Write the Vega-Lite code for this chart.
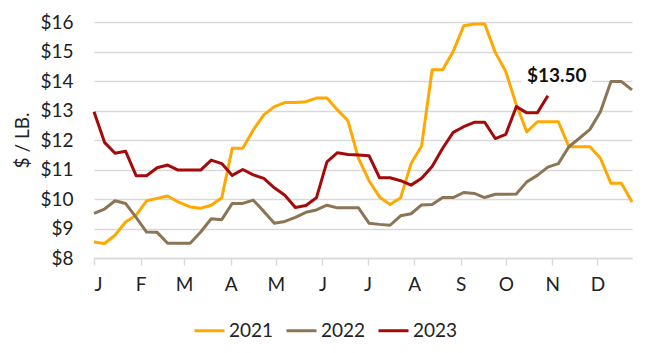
{
  "$schema": "https://vega.github.io/schema/vega-lite/v6.json",
  "width": 538,
  "height": 236,
  "autosize": {"type": "none"},
  "padding": {"left": 94, "top": 22, "right": 18, "bottom": 95},
  "background": "white",
  "config": {"font": "Lato", "view": {"stroke": null}},
  "datasets": {
    "note": [{"date": "2023-10-29", "price": 13.5, "label": "$13.50"}],
    "prices": [
      {"series":"2021","date":"2021-01-01","price":8.54},{"series":"2021","date":"2021-01-08","price":8.49},{"series":"2021","date":"2021-01-15","price":8.77},{"series":"2021","date":"2021-01-22","price":9.22},{"series":"2021","date":"2021-01-29","price":9.45},{"series":"2021","date":"2021-02-05","price":9.94},{"series":"2021","date":"2021-02-12","price":10.02},{"series":"2021","date":"2021-02-19","price":10.1},{"series":"2021","date":"2021-02-26","price":9.9},{"series":"2021","date":"2021-03-05","price":9.73},
      {"series":"2021","date":"2021-03-12","price":9.69},{"series":"2021","date":"2021-03-19","price":9.79},{"series":"2021","date":"2021-03-26","price":10.04},{"series":"2021","date":"2021-04-02","price":11.72},{"series":"2021","date":"2021-04-09","price":11.72},{"series":"2021","date":"2021-04-16","price":12.34},{"series":"2021","date":"2021-04-23","price":12.85},{"series":"2021","date":"2021-04-30","price":13.13},{"series":"2021","date":"2021-05-07","price":13.27},{"series":"2021","date":"2021-05-14","price":13.27},
      {"series":"2021","date":"2021-05-21","price":13.3},{"series":"2021","date":"2021-05-28","price":13.42},{"series":"2021","date":"2021-06-04","price":13.42},{"series":"2021","date":"2021-06-11","price":13.02},{"series":"2021","date":"2021-06-18","price":12.65},{"series":"2021","date":"2021-06-25","price":11.38},{"series":"2021","date":"2021-07-02","price":10.62},{"series":"2021","date":"2021-07-09","price":10.07},{"series":"2021","date":"2021-07-16","price":9.81},{"series":"2021","date":"2021-07-23","price":10.04},
      {"series":"2021","date":"2021-07-30","price":11.2},{"series":"2021","date":"2021-08-06","price":11.8},{"series":"2021","date":"2021-08-13","price":14.38},{"series":"2021","date":"2021-08-20","price":14.38},{"series":"2021","date":"2021-08-27","price":15.0},{"series":"2021","date":"2021-09-03","price":15.87},{"series":"2021","date":"2021-09-10","price":15.93},{"series":"2021","date":"2021-09-17","price":15.93},{"series":"2021","date":"2021-09-24","price":14.97},{"series":"2021","date":"2021-10-01","price":14.32},
      {"series":"2021","date":"2021-10-08","price":13.2},{"series":"2021","date":"2021-10-15","price":12.27},{"series":"2021","date":"2021-10-22","price":12.62},{"series":"2021","date":"2021-10-29","price":12.62},{"series":"2021","date":"2021-11-05","price":12.62},{"series":"2021","date":"2021-11-12","price":11.77},{"series":"2021","date":"2021-11-19","price":11.77},{"series":"2021","date":"2021-11-26","price":11.77},{"series":"2021","date":"2021-12-03","price":11.38},{"series":"2021","date":"2021-12-10","price":10.53},
      {"series":"2021","date":"2021-12-17","price":10.53},{"series":"2021","date":"2021-12-24","price":9.9},

      {"series":"2022","date":"2022-01-01","price":9.51},{"series":"2022","date":"2022-01-08","price":9.66},{"series":"2022","date":"2022-01-15","price":9.94},{"series":"2022","date":"2022-01-22","price":9.85},{"series":"2022","date":"2022-01-29","price":9.38},{"series":"2022","date":"2022-02-05","price":8.88},{"series":"2022","date":"2022-02-12","price":8.87},{"series":"2022","date":"2022-02-19","price":8.5},{"series":"2022","date":"2022-02-26","price":8.5},{"series":"2022","date":"2022-03-05","price":8.5},
      {"series":"2022","date":"2022-03-12","price":8.88},{"series":"2022","date":"2022-03-19","price":9.33},{"series":"2022","date":"2022-03-26","price":9.3},{"series":"2022","date":"2022-04-02","price":9.85},{"series":"2022","date":"2022-04-09","price":9.85},{"series":"2022","date":"2022-04-16","price":9.96},{"series":"2022","date":"2022-04-23","price":9.58},{"series":"2022","date":"2022-04-30","price":9.18},{"series":"2022","date":"2022-05-07","price":9.24},{"series":"2022","date":"2022-05-14","price":9.38},
      {"series":"2022","date":"2022-05-21","price":9.55},{"series":"2022","date":"2022-05-28","price":9.63},{"series":"2022","date":"2022-06-04","price":9.79},{"series":"2022","date":"2022-06-11","price":9.7},{"series":"2022","date":"2022-06-18","price":9.7},{"series":"2022","date":"2022-06-25","price":9.7},{"series":"2022","date":"2022-07-02","price":9.18},{"series":"2022","date":"2022-07-09","price":9.14},{"series":"2022","date":"2022-07-16","price":9.11},{"series":"2022","date":"2022-07-23","price":9.43},
      {"series":"2022","date":"2022-07-30","price":9.5},{"series":"2022","date":"2022-08-06","price":9.8},{"series":"2022","date":"2022-08-13","price":9.81},{"series":"2022","date":"2022-08-20","price":10.05},{"series":"2022","date":"2022-08-27","price":10.05},{"series":"2022","date":"2022-09-03","price":10.22},{"series":"2022","date":"2022-09-10","price":10.19},{"series":"2022","date":"2022-09-17","price":10.05},{"series":"2022","date":"2022-09-24","price":10.16},{"series":"2022","date":"2022-10-01","price":10.16},
      {"series":"2022","date":"2022-10-08","price":10.17},{"series":"2022","date":"2022-10-15","price":10.58},{"series":"2022","date":"2022-10-22","price":10.8},{"series":"2022","date":"2022-10-29","price":11.08},{"series":"2022","date":"2022-11-05","price":11.2},{"series":"2022","date":"2022-11-12","price":11.77},{"series":"2022","date":"2022-11-19","price":12.06},{"series":"2022","date":"2022-11-26","price":12.36},{"series":"2022","date":"2022-12-03","price":12.96},{"series":"2022","date":"2022-12-10","price":13.98},
      {"series":"2022","date":"2022-12-17","price":13.98},{"series":"2022","date":"2022-12-24","price":13.7},

      {"series":"2023","date":"2023-01-01","price":12.96},{"series":"2023","date":"2023-01-08","price":11.92},{"series":"2023","date":"2023-01-15","price":11.55},{"series":"2023","date":"2023-01-22","price":11.62},{"series":"2023","date":"2023-01-29","price":10.79},{"series":"2023","date":"2023-02-05","price":10.79},{"series":"2023","date":"2023-02-12","price":11.06},{"series":"2023","date":"2023-02-19","price":11.15},{"series":"2023","date":"2023-02-26","price":10.98},{"series":"2023","date":"2023-03-05","price":10.98},
      {"series":"2023","date":"2023-03-12","price":10.98},{"series":"2023","date":"2023-03-19","price":11.32},{"series":"2023","date":"2023-03-26","price":11.2},{"series":"2023","date":"2023-04-02","price":10.8},{"series":"2023","date":"2023-04-09","price":11.0},{"series":"2023","date":"2023-04-16","price":10.82},{"series":"2023","date":"2023-04-23","price":10.7},{"series":"2023","date":"2023-04-30","price":10.38},{"series":"2023","date":"2023-05-07","price":10.13},{"series":"2023","date":"2023-05-14","price":9.71},
      {"series":"2023","date":"2023-05-21","price":9.78},{"series":"2023","date":"2023-05-28","price":10.04},{"series":"2023","date":"2023-06-04","price":11.26},{"series":"2023","date":"2023-06-11","price":11.57},{"series":"2023","date":"2023-06-18","price":11.51},{"series":"2023","date":"2023-06-25","price":11.49},{"series":"2023","date":"2023-07-02","price":11.47},{"series":"2023","date":"2023-07-09","price":10.72},{"series":"2023","date":"2023-07-16","price":10.72},{"series":"2023","date":"2023-07-23","price":10.62},
      {"series":"2023","date":"2023-07-30","price":10.47},{"series":"2023","date":"2023-08-06","price":10.7},{"series":"2023","date":"2023-08-13","price":11.1},{"series":"2023","date":"2023-08-20","price":11.72},{"series":"2023","date":"2023-08-27","price":12.26},{"series":"2023","date":"2023-09-03","price":12.45},{"series":"2023","date":"2023-09-10","price":12.6},{"series":"2023","date":"2023-09-17","price":12.6},{"series":"2023","date":"2023-09-24","price":12.05},{"series":"2023","date":"2023-10-01","price":12.19},
      {"series":"2023","date":"2023-10-08","price":13.13},{"series":"2023","date":"2023-10-15","price":12.92},{"series":"2023","date":"2023-10-22","price":12.92},{"series":"2023","date":"2023-10-29","price":13.5}
    ]
  },
  "encoding": {
    "x": {
      "field": "date", "timeUnit": "utcmonthdate", "type": "temporal",
      "scale": {"domain": [{"year": 2012, "month": 1, "date": 1, "utc": true}, {"year": 2012, "month": 12, "date": 24, "utc": true}]},
      "axis": {
        "title": null,
        "values": [
          {"year": 2012, "month": 1, "date": 1, "utc": true}, {"year": 2012, "month": 2, "date": 1, "utc": true},
          {"year": 2012, "month": 3, "date": 1, "utc": true}, {"year": 2012, "month": 4, "date": 1, "utc": true},
          {"year": 2012, "month": 5, "date": 1, "utc": true}, {"year": 2012, "month": 6, "date": 1, "utc": true},
          {"year": 2012, "month": 7, "date": 1, "utc": true}, {"year": 2012, "month": 8, "date": 1, "utc": true},
          {"year": 2012, "month": 9, "date": 1, "utc": true}, {"year": 2012, "month": 10, "date": 1, "utc": true},
          {"year": 2012, "month": 11, "date": 1, "utc": true}, {"year": 2012, "month": 12, "date": 1, "utc": true}
        ],
        "labelExpr": "substring(utcFormat(datum.value, '%b'), 0, 1)",
        "grid": false,
        "domainColor": "#d9d9d9", "domainWidth": 1.5,
        "tickColor": "#d9d9d9", "tickSize": 7, "tickWidth": 1.5,
        "labelFontSize": 19, "labelColor": "#222222", "labelPadding": 10
      }
    },
    "y": {
      "field": "price", "type": "quantitative",
      "scale": {"domain": [8, 16], "nice": false, "zero": false},
      "axis": {
        "title": "$ / LB.",
        "values": [8, 9, 10, 11, 12, 13, 14, 15, 16],
        "format": "$.0f",
        "domain": false, "ticks": false, "tickSize": 0,
        "labelPadding": 21, "labelFontSize": 19, "labelColor": "#222222",
        "gridColor": "#d9d9d9", "gridWidth": 1.5,
        "titleFontSize": 19, "titleFontWeight": "normal", "titleColor": "#222222", "titlePadding": 7
      }
    }
  },
  "layer": [
    {
      "data": {"name": "note"},
      "mark": {"type": "rect", "fill": "white", "xOffset": -26, "x2Offset": 44, "yOffset": -30, "y2Offset": -10},
      "encoding": {
        "x2": {"field": "date", "timeUnit": "utcmonthdate"},
        "y2": {"field": "price"}
      }
    },
    {
      "data": {"name": "prices"},
      "mark": {"type": "line", "strokeWidth": 3, "strokeJoin": "round"},
      "encoding": {
        "color": {
          "field": "series", "type": "nominal",
          "scale": {"domain": ["2021", "2022", "2023"], "range": ["#FFA800", "#8C7555", "#A50A0A"]},
          "legend": {
            "title": null, "orient": "none", "legendX": 99, "legendY": 292, "direction": "horizontal",
            "symbolType": "stroke", "symbolSize": 900, "symbolStrokeWidth": 3,
            "labelFontSize": 19, "labelColor": "#222222", "labelOffset": 3, "columnPadding": 6, "padding": 0
          }
        }
      }
    },
    {
      "data": {"name": "note"},
      "mark": {"type": "text", "fontWeight": "bold", "fontSize": 19, "dx": 9, "dy": -14, "align": "center", "baseline": "alphabetic", "color": "#111111"},
      "encoding": {
        "text": {"field": "label"}
      }
    }
  ]
}
